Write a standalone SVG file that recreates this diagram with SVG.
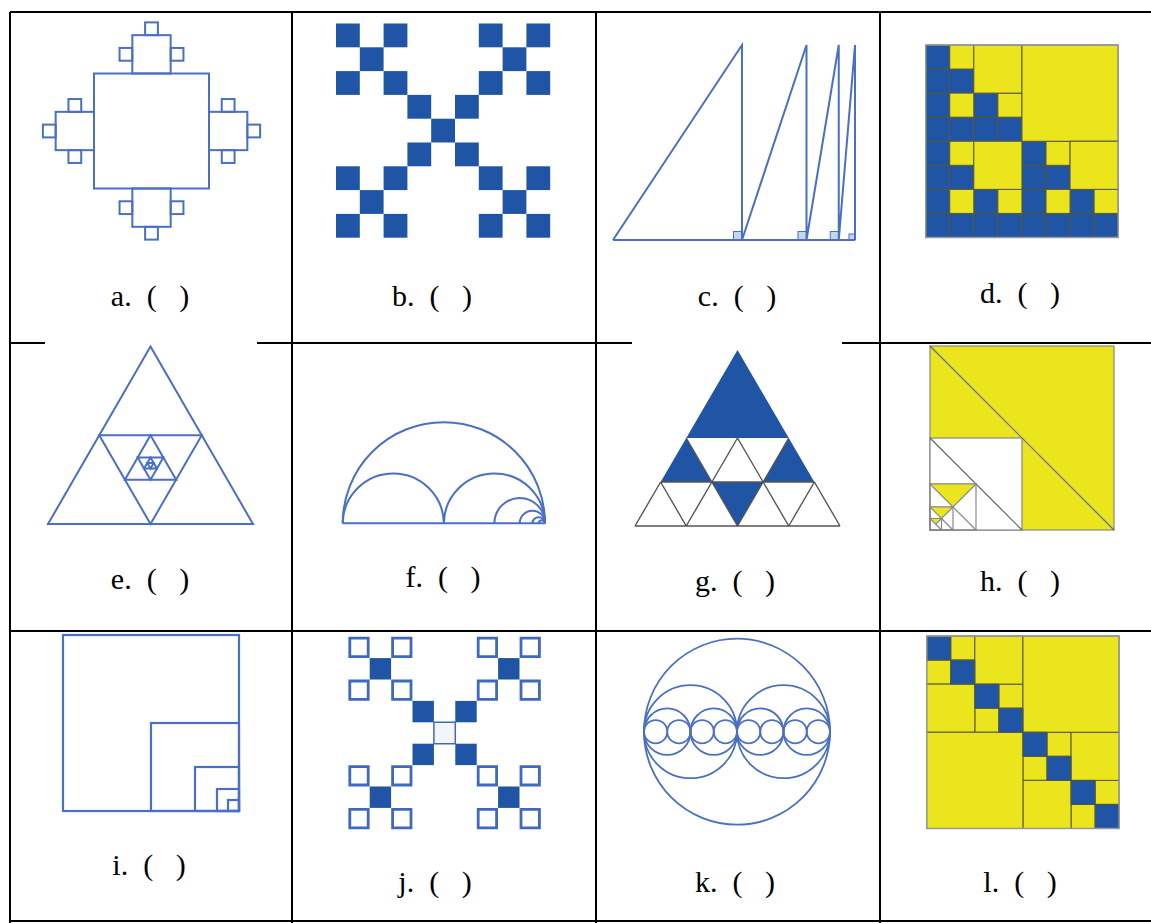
<svg xmlns="http://www.w3.org/2000/svg" width="1151" height="923" viewBox="0 0 1151 923">
<style>
.ln{fill:none;stroke:#4a6fc5;stroke-width:2}
.fb{fill:#1f55a4}
.yl{fill:#ebe51e}
.gl{stroke:#000;stroke-width:2;fill:none}
.lb{font-family:"Liberation Serif","Times New Roman",serif;font-size:30px;fill:#000;text-anchor:middle}
.cg rect{stroke:#55553f;stroke-width:1;vector-effect:non-scaling-stroke}
.gy{stroke:#555;stroke-width:1.4;fill:none}
.hs{stroke:#888;stroke-width:1.2}
</style>
<defs>
<g id="arm" class="ln">
<rect x="-19.17" y="-95.83" width="38.33" height="38.33"/>
<rect x="-6.39" y="-108.61" width="12.78" height="12.78"/>
<rect x="-31.95" y="-83.06" width="12.78" height="12.78"/>
<rect x="19.17" y="-83.06" width="12.78" height="12.78"/>
</g>
<g id="xb" class="fb">
<rect x="0" y="0" width="1" height="1"/><rect x="2" y="0" width="1" height="1"/><rect x="1" y="1" width="1" height="1"/><rect x="0" y="2" width="1" height="1"/><rect x="2" y="2" width="1" height="1"/>
</g>
<g id="jb">
<g fill="#fff" stroke="#3f68c0" stroke-width="2.8">
<rect x="0.07" y="0.07" width="0.86" height="0.86" vector-effect="non-scaling-stroke"/>
<rect x="2.07" y="0.07" width="0.86" height="0.86" vector-effect="non-scaling-stroke"/>
<rect x="0.07" y="2.07" width="0.86" height="0.86" vector-effect="non-scaling-stroke"/>
<rect x="2.07" y="2.07" width="0.86" height="0.86" vector-effect="non-scaling-stroke"/>
</g>
<rect class="fb" x="1" y="1" width="1" height="1"/>
</g>
</defs>

<g id="grid">
<path class="gl" d="M10 12H1151M10 343H1151M10 631H1151M10 921H1151M10 12V923M292 12V923M596 12V923M880 12V923"/>
<rect x="45" y="339" width="212" height="8" fill="#fff"/>
<rect x="632" y="339" width="210" height="8" fill="#fff"/>
</g>

<g id="fig-a">
<rect class="ln" x="94" y="73.5" width="115" height="115"/>
<use href="#arm" transform="translate(151.5,131)"/>
<use href="#arm" transform="translate(151.5,131) rotate(90)"/>
<use href="#arm" transform="translate(151.5,131) rotate(180)"/>
<use href="#arm" transform="translate(151.5,131) rotate(270)"/>
</g>

<g id="fig-b" transform="translate(336,23.5) scale(23.8)">
<use href="#xb"/>
<use href="#xb" transform="translate(6,0)"/>
<use href="#xb" transform="translate(3,3)"/>
<use href="#xb" transform="translate(0,6)"/>
<use href="#xb" transform="translate(6,6)"/>
</g>

<g id="fig-c">
<g fill="#c8d4ec" stroke="#4a6fc5" stroke-width="1">
<rect x="733.5" y="231.5" width="8.5" height="8.5"/>
<rect x="798" y="231.5" width="8.5" height="8.5"/>
<rect x="830.25" y="231.5" width="8.5" height="8.5"/>
<rect x="849" y="234" width="6" height="6"/>
</g>
<path class="ln" d="M613 240H855M613 240L742 45V240M742 240L806.5 45V240M806.5 240L838.75 45V240M838.75 240L855 45V240"/>
</g>

<g id="fig-d">
<g transform="translate(925.7,45) scale(24.06)">
<g class="fb cg">
<rect x="0" y="0" width="1" height="1"/>
<rect x="0" y="1" width="1" height="1"/><rect x="1" y="1" width="1" height="1"/>
<rect x="0" y="2" width="1" height="1"/><rect x="2" y="2" width="1" height="1"/>
<rect x="0" y="3" width="1" height="1"/><rect x="1" y="3" width="1" height="1"/><rect x="2" y="3" width="1" height="1"/><rect x="3" y="3" width="1" height="1"/>
<rect x="0" y="4" width="1" height="1"/><rect x="4" y="4" width="1" height="1"/>
<rect x="0" y="5" width="1" height="1"/><rect x="1" y="5" width="1" height="1"/><rect x="4" y="5" width="1" height="1"/><rect x="5" y="5" width="1" height="1"/>
<rect x="0" y="6" width="1" height="1"/><rect x="2" y="6" width="1" height="1"/><rect x="4" y="6" width="1" height="1"/><rect x="6" y="6" width="1" height="1"/>
<rect x="0" y="7" width="1" height="1"/><rect x="1" y="7" width="1" height="1"/><rect x="2" y="7" width="1" height="1"/><rect x="3" y="7" width="1" height="1"/><rect x="4" y="7" width="1" height="1"/><rect x="5" y="7" width="1" height="1"/><rect x="6" y="7" width="1" height="1"/><rect x="7" y="7" width="1" height="1"/>
</g>
<g class="yl cg">
<rect x="1" y="0" width="1" height="1"/><rect x="1" y="2" width="1" height="1"/><rect x="3" y="2" width="1" height="1"/><rect x="1" y="4" width="1" height="1"/><rect x="5" y="4" width="1" height="1"/><rect x="1" y="6" width="1" height="1"/><rect x="3" y="6" width="1" height="1"/><rect x="5" y="6" width="1" height="1"/><rect x="7" y="6" width="1" height="1"/>
<rect x="2" y="0" width="2" height="2"/><rect x="4" y="0" width="4" height="4"/><rect x="2" y="4" width="2" height="2"/><rect x="6" y="4" width="2" height="2"/>
</g>
</g>
<rect x="925.7" y="45" width="192.5" height="192.5" fill="none" stroke="#999" stroke-width="1.5"/>
</g>

<g id="fig-e" class="ln">
<polygon points="150.5,346.5 48,524 253,524"/>
<polygon points="99.25,435.25 201.75,435.25 150.5,524"/>
<polygon points="150.5,435.25 124.88,479.63 176.13,479.63"/>
<polygon points="137.69,457.44 163.31,457.44 150.5,479.63"/>
<polygon points="150.5,457.44 144.09,468.53 156.91,468.53"/>
<polygon points="147.3,462.98 153.7,462.98 150.5,468.53"/>
</g>

<g id="fig-f" class="ln">
<path d="M342.7 523.3H545"/>
<path d="M342.7 523.3A101.15 101.15 0 0 1 545 523.3"/>
<path d="M342.7 523.3A50.58 50.58 0 0 1 443.85 523.3"/>
<path d="M443.85 523.3A50.58 50.58 0 0 1 545 523.3"/>
<path d="M494.4 523.3A25.3 25.3 0 0 1 545 523.3"/>
<path d="M519.7 523.3A12.65 12.65 0 0 1 545 523.3"/>
<path d="M532.35 523.3A6.33 6.33 0 0 1 545 523.3"/>
<path d="M538.7 523.3A3.15 3.15 0 0 1 545 523.3"/>
</g>

<g id="fig-g">
<g class="fb">
<polygon points="737.5,350 686.25,438 788.75,438"/>
<polygon points="686.25,438 660.63,482 711.88,482"/>
<polygon points="788.75,438 763.13,482 814.38,482"/>
<polygon points="711.88,482 763.13,482 737.5,526"/>
</g>
<path class="gy" d="M660.63 482H814.38M635 526H840M660.63 482L635 526M660.63 482L686.25 526M711.88 482L686.25 526M711.88 482L737.5 526M763.13 482L737.5 526M763.13 482L788.75 526M814.38 482L788.75 526M814.38 482L840 526M737.5 438L711.88 482M737.5 438L763.13 482M686.25 438L711.88 482M788.75 438L763.13 482"/>
</g>

<g id="fig-h">
<rect class="yl hs" x="930" y="346" width="184" height="184" stroke-width="1.5"/>
<path d="M930 346L1114 530" stroke="#666" stroke-width="1.2"/>
<rect x="930" y="438" width="92" height="92" fill="#fff" class="hs" stroke-width="1.5"/>
<path d="M930 438L1022 530" stroke="#666" stroke-width="1.2"/>
<rect x="930" y="484" width="46" height="46" fill="none" class="hs"/>
<polygon class="yl hs" points="930,484 976,484 953,507"/>
<path class="hs" d="M953 507L976 530"/>
<rect x="930" y="507" width="23" height="23" fill="none" class="hs"/>
<polygon class="yl hs" points="930,507 953,507 941.5,518.5"/>
<path class="hs" d="M941.5 518.5L953 530"/>
<rect x="930" y="518.5" width="11.5" height="11.5" fill="none" class="hs"/>
<polygon class="yl hs" points="930,518.5 941.5,518.5 935.75,524.25"/>
<path class="hs" d="M935.75 524.25L941.5 530"/>
</g>

<g id="fig-i" class="ln" style="stroke-width:2.2">
<rect x="63" y="635" width="176" height="176"/>
<rect x="151" y="723" width="88" height="88"/>
<rect x="195" y="767" width="44" height="44"/>
<rect x="217" y="789" width="22" height="22"/>
<rect x="228" y="800" width="11" height="11"/>
</g>

<g id="fig-j" transform="translate(348.3,636.7) scale(21.4)">
<use href="#jb"/>
<use href="#jb" transform="translate(6,0)"/>
<use href="#jb" transform="translate(0,6)"/>
<use href="#jb" transform="translate(6,6)"/>
<g class="fb">
<rect x="3" y="3" width="1" height="1"/><rect x="5" y="3" width="1" height="1"/><rect x="3" y="5" width="1" height="1"/><rect x="5" y="5" width="1" height="1"/>
</g>
<rect x="4" y="4" width="1" height="1" fill="#f2f5fb" stroke="#3f68c0" stroke-width="1.5" vector-effect="non-scaling-stroke"/>
</g>

<g id="fig-k" class="ln" style="stroke-width:1.8">
<circle cx="737" cy="731.7" r="93"/>
<circle cx="690.5" cy="731.7" r="46.5"/>
<circle cx="783.5" cy="731.7" r="46.5"/>
<circle cx="667.25" cy="731.7" r="23.25"/>
<circle cx="713.75" cy="731.7" r="23.25"/>
<circle cx="760.25" cy="731.7" r="23.25"/>
<circle cx="806.75" cy="731.7" r="23.25"/>
<circle cx="655.63" cy="731.7" r="11.63"/>
<circle cx="678.88" cy="731.7" r="11.63"/>
<circle cx="702.13" cy="731.7" r="11.63"/>
<circle cx="725.38" cy="731.7" r="11.63"/>
<circle cx="748.63" cy="731.7" r="11.63"/>
<circle cx="771.88" cy="731.7" r="11.63"/>
<circle cx="795.13" cy="731.7" r="11.63"/>
<circle cx="818.38" cy="731.7" r="11.63"/>
</g>

<g id="fig-l">
<g transform="translate(926.7,636) scale(24.06)">
<g class="yl cg">
<rect x="1" y="0" width="1" height="1"/><rect x="0" y="1" width="1" height="1"/><rect x="3" y="2" width="1" height="1"/><rect x="2" y="3" width="1" height="1"/><rect x="5" y="4" width="1" height="1"/><rect x="4" y="5" width="1" height="1"/><rect x="7" y="6" width="1" height="1"/><rect x="6" y="7" width="1" height="1"/>
<rect x="2" y="0" width="2" height="2"/><rect x="0" y="2" width="2" height="2"/><rect x="6" y="4" width="2" height="2"/><rect x="4" y="6" width="2" height="2"/>
<rect x="4" y="0" width="4" height="4"/><rect x="0" y="4" width="4" height="4"/>
</g>
<g class="fb cg">
<rect x="0" y="0" width="1" height="1"/><rect x="1" y="1" width="1" height="1"/><rect x="2" y="2" width="1" height="1"/><rect x="3" y="3" width="1" height="1"/><rect x="4" y="4" width="1" height="1"/><rect x="5" y="5" width="1" height="1"/><rect x="6" y="6" width="1" height="1"/><rect x="7" y="7" width="1" height="1"/>
</g>
</g>
<rect x="926.7" y="636" width="192.5" height="192.5" fill="none" stroke="#999" stroke-width="1.5"/>
</g>

<g id="labels" class="lb">
<text x="150" y="306">a.&#160;&#160;(&#160;&#160;&#160;)</text>
<text x="432" y="306">b.&#160;&#160;(&#160;&#160;&#160;)</text>
<text x="737" y="306">c.&#160;&#160;(&#160;&#160;&#160;)</text>
<text x="1020" y="303">d.&#160;&#160;(&#160;&#160;&#160;)</text>
<text x="150" y="589">e.&#160;&#160;(&#160;&#160;&#160;)</text>
<text x="443" y="587">f.&#160;&#160;(&#160;&#160;&#160;)</text>
<text x="735" y="591">g.&#160;&#160;(&#160;&#160;&#160;)</text>
<text x="1020" y="591">h.&#160;&#160;(&#160;&#160;&#160;)</text>
<text x="149" y="875">i.&#160;&#160;(&#160;&#160;&#160;)</text>
<text x="435" y="892">j.&#160;&#160;(&#160;&#160;&#160;)</text>
<text x="735" y="892">k.&#160;&#160;(&#160;&#160;&#160;)</text>
<text x="1020" y="892">l.&#160;&#160;(&#160;&#160;&#160;)</text>
</g>
</svg>
